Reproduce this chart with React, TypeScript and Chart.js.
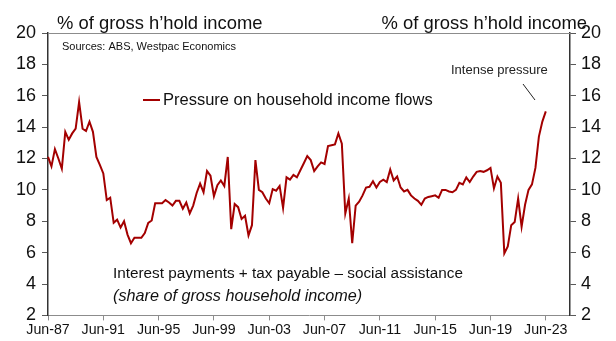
import React, { useEffect, useRef } from 'react';
import { Chart, registerables } from 'chart.js';

Chart.register(...registerables);

// Quarterly categories Jun-87 .. Mar-25 (axis extends past the last observation)
const quarterMonths = ['Mar', 'Jun', 'Sep', 'Dec'];
const firstYear = 1987;
const lastYear = 2025;
const quarters: string[] = [];
for (let y = firstYear; y <= lastYear; y++) {
  for (let q = 0; q < 4; q++) {
    if (y === firstYear && q < 1) continue;
    if (y === lastYear && q > 0) continue;
    quarters.push(`${quarterMonths[q]}-${String(y % 100).padStart(2, '0')}`);
  }
}

// Pressure on household income flows, % of gross household income (Jun-87 .. Jun-23)
const pressure: number[] = [
  12.1, 11.5, 12.6, 12.0, 11.35, 13.7, 13.2, 13.6, 13.9, 15.6,
  13.9, 13.75, 14.35, 13.7, 12.1, 11.6, 11.05, 9.35, 9.5, 7.9,
  8.1, 7.6, 8.0, 7.15, 6.6, 6.95, 6.95, 6.95, 7.25, 7.9,
  8.05, 9.15, 9.15, 9.15, 9.35, 9.2, 9.0, 9.3, 9.3, 8.8,
  9.2, 8.5, 9.0, 9.8, 10.4, 9.85, 11.2, 10.9, 9.6, 10.3,
  10.6, 10.25, 12.1, 7.5, 9.1, 8.9, 8.15, 8.35, 7.1, 7.75,
  11.9, 10.0, 9.85, 9.45, 9.15, 10.05, 9.95, 10.25, 8.85, 10.8,
  10.65, 10.95, 10.8, 11.25, 11.7, 12.15, 11.9, 11.2, 11.5, 11.75,
  11.65, 12.8, 12.85, 12.9, 13.6, 12.95, 8.5, 9.45, 6.6, 9.0,
  9.25, 9.65, 10.15, 10.2, 10.55, 10.15, 10.5, 10.65, 10.5, 11.3,
  10.6, 10.85, 10.15, 9.9, 10.0, 9.65, 9.45, 9.3, 9.05, 9.45,
  9.55, 9.6, 9.65, 9.5, 10.0, 10.0, 9.9, 9.85, 10.0, 10.45,
  10.35, 10.8, 10.5, 10.85, 11.15, 11.2, 11.15, 11.25, 11.4, 10.1,
  10.85, 10.45, 5.95, 6.4, 7.75, 7.95, 9.45, 7.65, 9.05, 10.0,
  10.35, 11.4, 13.4, 14.35, 15.0,
];

const tickEvery = 16; // Jun-87, Jun-91, ... Jun-23
const yMin = 2;
const yMax = 20;
const yStep = 2;

const axisTitle = '% of gross h\u2019hold income';
const sourceText = 'Sources: ABS, Westpac Economics';
const seriesName = 'Pressure on household income flows';
const annotationText = 'Intense pressure';
const noteLine1 = 'Interest payments + tax payable \u2013 social assistance';
const noteLine2 = '(share of gross household income)';

const LINE_COLOR = '#A30000';
const FONT = "'Liberation Sans', Arial, Helvetica, sans-serif";

const overlayPlugin = {
  id: 'overlay',
  afterDraw(chart: any) {
    const ctx = chart.ctx as CanvasRenderingContext2D;
    const area = chart.chartArea;
    ctx.save();
    // top frame line
    ctx.strokeStyle = '#8c8c8c';
    ctx.lineWidth = 1;
    ctx.beginPath();
    ctx.moveTo(area.left, Math.round(area.top) + 0.5);
    ctx.lineTo(area.right, Math.round(area.top) + 0.5);
    ctx.stroke();

    ctx.fillStyle = '#111';
    ctx.textBaseline = 'alphabetic';
    ctx.font = `18.4px ${FONT}`;
    ctx.textAlign = 'left';
    ctx.fillText(axisTitle, 57, 29);
    ctx.textAlign = 'right';
    ctx.fillText(axisTitle, 587, 29);

    ctx.textAlign = 'left';
    ctx.textBaseline = 'middle';
    ctx.font = `11px ${FONT}`;
    ctx.fillText(sourceText, 62, 47);

    // legend
    ctx.strokeStyle = LINE_COLOR;
    ctx.lineWidth = 2;
    ctx.beginPath();
    ctx.moveTo(143, 100);
    ctx.lineTo(160, 100);
    ctx.stroke();
    ctx.font = `16.5px ${FONT}`;
    ctx.fillText(seriesName, 163, 100);

    // annotation
    ctx.font = `13px ${FONT}`;
    ctx.fillStyle = '#222';
    ctx.fillText(annotationText, 451, 70);
    ctx.strokeStyle = '#222';
    ctx.lineWidth = 1;
    ctx.beginPath();
    ctx.moveTo(523, 84);
    ctx.lineTo(535, 100);
    ctx.stroke();

    // note
    ctx.fillStyle = '#111';
    ctx.font = `15.3px ${FONT}`;
    ctx.fillText(noteLine1, 113, 274);
    ctx.font = `italic 16.2px ${FONT}`;
    ctx.fillText(noteLine2, 113, 296);
    ctx.restore();
  },
};

export default function App() {
  const ref = useRef<HTMLCanvasElement | null>(null);

  useEffect(() => {
    document.body.style.margin = '0';
    const canvas = ref.current;
    if (!canvas) return;
    const yTicks = {
      stepSize: yStep,
      color: '#111',
      font: { family: FONT, size: 18 },
      padding: 6,
    };
    const chart = new Chart(canvas, {
      type: 'line',
      data: {
        labels: quarters,
        datasets: [
          {
            label: seriesName,
            data: pressure,
            borderColor: LINE_COLOR,
            backgroundColor: LINE_COLOR,
            borderWidth: 2,
            pointRadius: 0,
            tension: 0,
            fill: false,
          },
        ],
      },
      options: {
        animation: false,
        responsive: false,
        maintainAspectRatio: false,
        layout: { padding: { top: 33, left: 0, right: 0, bottom: 0 } },
        plugins: { legend: { display: false }, tooltip: { enabled: false } },
        scales: {
          x: {
            type: 'category',
            offset: false,
            grid: {
              drawOnChartArea: false,
              drawTicks: true,
              tickLength: 5,
              color: (c: any) => (c.index % tickEvery === 0 ? '#8c8c8c' : 'rgba(0,0,0,0)'),
            },
            border: { color: '#8c8c8c', width: 1 },
            ticks: {
              autoSkip: false,
              maxRotation: 0,
              minRotation: 0,
              padding: 1,
              color: '#111',
              font: { family: FONT, size: 14.2 },
              callback: (_v: any, i: number) => (i % tickEvery === 0 ? quarters[i] : ''),
            },
            afterFit: (s: any) => {
              s.height = 25.6;
            },
          },
          y: {
            position: 'left',
            min: yMin,
            max: yMax,
            ticks: yTicks,
            grid: { drawOnChartArea: false, tickLength: 6, color: '#595959' },
            border: { color: '#333', width: 1.5 },
            afterFit: (s: any) => {
              s.width = 48;
            },
          },
          y2: {
            position: 'right',
            min: yMin,
            max: yMax,
            ticks: { ...yTicks, padding: 5 },
            grid: { drawOnChartArea: false, tickLength: 6, color: '#595959' },
            border: { color: '#333', width: 1.5 },
            afterFit: (s: any) => {
              s.width = 46;
            },
          },
        },
      },
      plugins: [overlayPlugin],
    });
    return () => chart.destroy();
  }, []);

  return (
    <div style={{ width: 616, height: 341, background: '#fff' }}>
      <canvas ref={ref} width={616} height={341} style={{ display: 'block' }} />
    </div>
  );
}
